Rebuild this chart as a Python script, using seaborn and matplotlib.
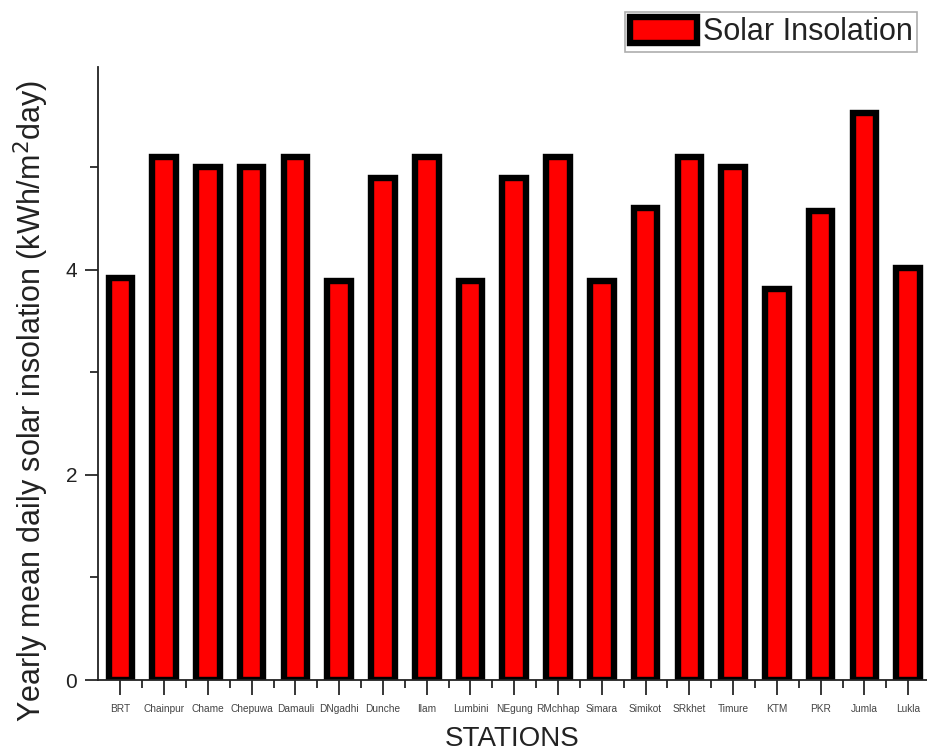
import matplotlib
matplotlib.use("Agg")
import matplotlib.pyplot as plt
from matplotlib.patches import Patch
from matplotlib.ticker import MultipleLocator
import seaborn as sns
import pandas as pd

stations = ["BRT", "Chainpur", "Chame", "Chepuwa", "Damauli", "DNgadhi", "Dunche",
            "Ilam", "Lumbini", "NEgung", "RMchhap", "Simara", "Simikot", "SRkhet",
            "Timure", "KTM", "PKR", "Jumla", "Lukla"]
insolation = [3.92, 5.10, 5.00, 5.00, 5.10, 3.89, 4.90,
              5.10, 3.89, 4.90, 5.10, 3.89, 4.60, 5.10,
              5.00, 3.81, 4.58, 5.53, 4.02]
series_name = "Solar Insolation"

df = pd.DataFrame({"station": stations, "value": insolation})

sns.set_style("ticks")
plt.rcParams["font.family"] = ["Liberation Sans", "DejaVu Sans"]

fig = plt.figure(figsize=(9.27, 7.56), dpi=100)
ax = fig.add_axes([98/927, 76/756, (927-98)/927, 613/756])

sns.barplot(data=df, x="station", y="value", color="red", saturation=1,
            edgecolor="black", linewidth=4.6, width=0.54, ax=ax)

ax.set_xlim(-0.51, 18.43)
ax.set_ylim(0, 5.98)
ax.yaxis.set_major_locator(MultipleLocator(2))
ax.yaxis.set_minor_locator(MultipleLocator(1))
ax.set_xticks(range(len(stations)))
ax.set_xticklabels(stations, fontsize=7.3, color="#444444")
ax.set_xticks([i + 0.5 for i in range(len(stations) - 1)], minor=True)
ax.tick_params(axis="x", which="major", length=11, width=1.3, pad=6)
ax.tick_params(axis="x", which="minor", length=6, width=1.3)
ax.tick_params(axis="y", which="major", length=9.5, width=1.3, labelsize=15,
               pad=5.5, labelcolor="#222222")
ax.tick_params(axis="y", which="minor", length=6, width=1.3)
for s in ["left", "bottom"]:
    ax.spines[s].set_linewidth(1.3)
    ax.spines[s].set_color("#222222")
sns.despine(ax=ax)

ax.set_xlabel("STATIONS", fontsize=20, labelpad=9, color="#222222")
ax.set_ylabel("Yearly mean daily solar insolation (kWh/m$^2$day)", fontsize=22,
              color="#222222")
ax.yaxis.set_label_coords(-0.057, 0.455)

handle = Patch(facecolor="red", edgecolor="black", linewidth=4.6, label=series_name)
leg = fig.legend(handles=[handle], loc="upper left", bbox_to_anchor=(625/927, 1 - 12/756),
                 borderaxespad=0, fontsize=22, frameon=True, fancybox=False,
                 handlelength=2.2, handleheight=0.95, borderpad=0.15,
                 handletextpad=0.2)
leg.get_frame().set_edgecolor("#999999")
leg.get_frame().set_linewidth(1.2)
for t in leg.get_texts():
    t.set_color("#222222")

fig.savefig("out.png", dpi=100)
